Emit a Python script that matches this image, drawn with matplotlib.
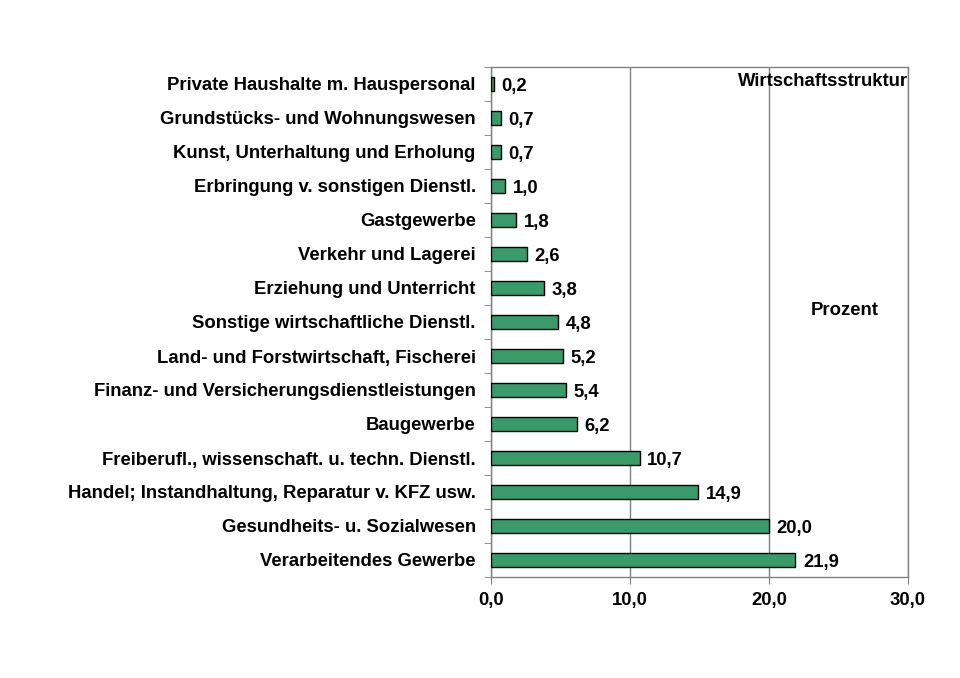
import matplotlib.pyplot as plt
import numpy as np

plt.rcParams['font.family'] = ['Liberation Sans', 'DejaVu Sans']

categories = [
    'Verarbeitendes Gewerbe',
    'Gesundheits- u. Sozialwesen',
    'Handel; Instandhaltung, Reparatur v. KFZ usw.',
    'Freiberufl., wissenschaft. u. techn. Dienstl.',
    'Baugewerbe',
    'Finanz- und Versicherungsdienstleistungen',
    'Land- und Forstwirtschaft, Fischerei',
    'Sonstige wirtschaftliche Dienstl.',
    'Erziehung und Unterricht',
    'Verkehr und Lagerei',
    'Gastgewerbe',
    'Erbringung v. sonstigen Dienstl.',
    'Kunst, Unterhaltung und Erholung',
    'Grundstücks- und Wohnungswesen',
    'Private Haushalte m. Hauspersonal',
]
values = [21.9, 20.0, 14.9, 10.7, 6.2, 5.4, 5.2, 4.8, 3.8, 2.6, 1.8, 1.0, 0.7, 0.7, 0.2]
xticks = [0, 10, 20, 30]

fig = plt.figure(figsize=(9.6, 6.78), dpi=100)
ax = fig.add_axes([491/960, 1 - 577/678, (908 - 491)/960, (577 - 67)/678])

y = np.arange(len(categories))
ax.barh(y, values, height=0.43, color='#3a9a6a', edgecolor='black', linewidth=1, zorder=3)

for yi, v in zip(y, values):
    ax.annotate(f'{v:.1f}'.replace('.', ','), (v, yi), xytext=(5.5, -1.5),
                textcoords='offset points', ha='left', va='center',
                fontsize=13.3, fontweight='bold')

ax.set_xlim(0, 30)
ax.set_ylim(-0.5, len(categories) - 0.5)
ax.set_xticks(xticks)
ax.set_xticklabels([f'{t:.1f}'.replace('.', ',') for t in xticks], fontsize=13.3, fontweight='bold')
ax.set_yticks(y)
ax.set_yticklabels(categories, fontsize=13.3, fontweight='bold')
ax.set_yticks(np.arange(-0.5, len(categories), 1), minor=True)
ax.tick_params(axis='y', which='major', length=0, pad=11)
ax.tick_params(axis='y', which='minor', length=5, color='#808080', direction='out')
ax.tick_params(axis='x', length=5, color='#808080', pad=6)

ax.grid(axis='x', color='#808080', linewidth=1, zorder=0)
for s in ax.spines.values():
    s.set_color('#808080')
    s.set_linewidth(1)

ax.text(1.0, 0.972, 'Wirtschaftsstruktur', transform=ax.transAxes, ha='right', va='center',
        fontsize=13.3, fontweight='bold')
ax.text(0.849, 0.522, 'Prozent', transform=ax.transAxes, ha='center', va='center',
        fontsize=13.3, fontweight='bold')

fig.savefig('out.png', dpi=100)
